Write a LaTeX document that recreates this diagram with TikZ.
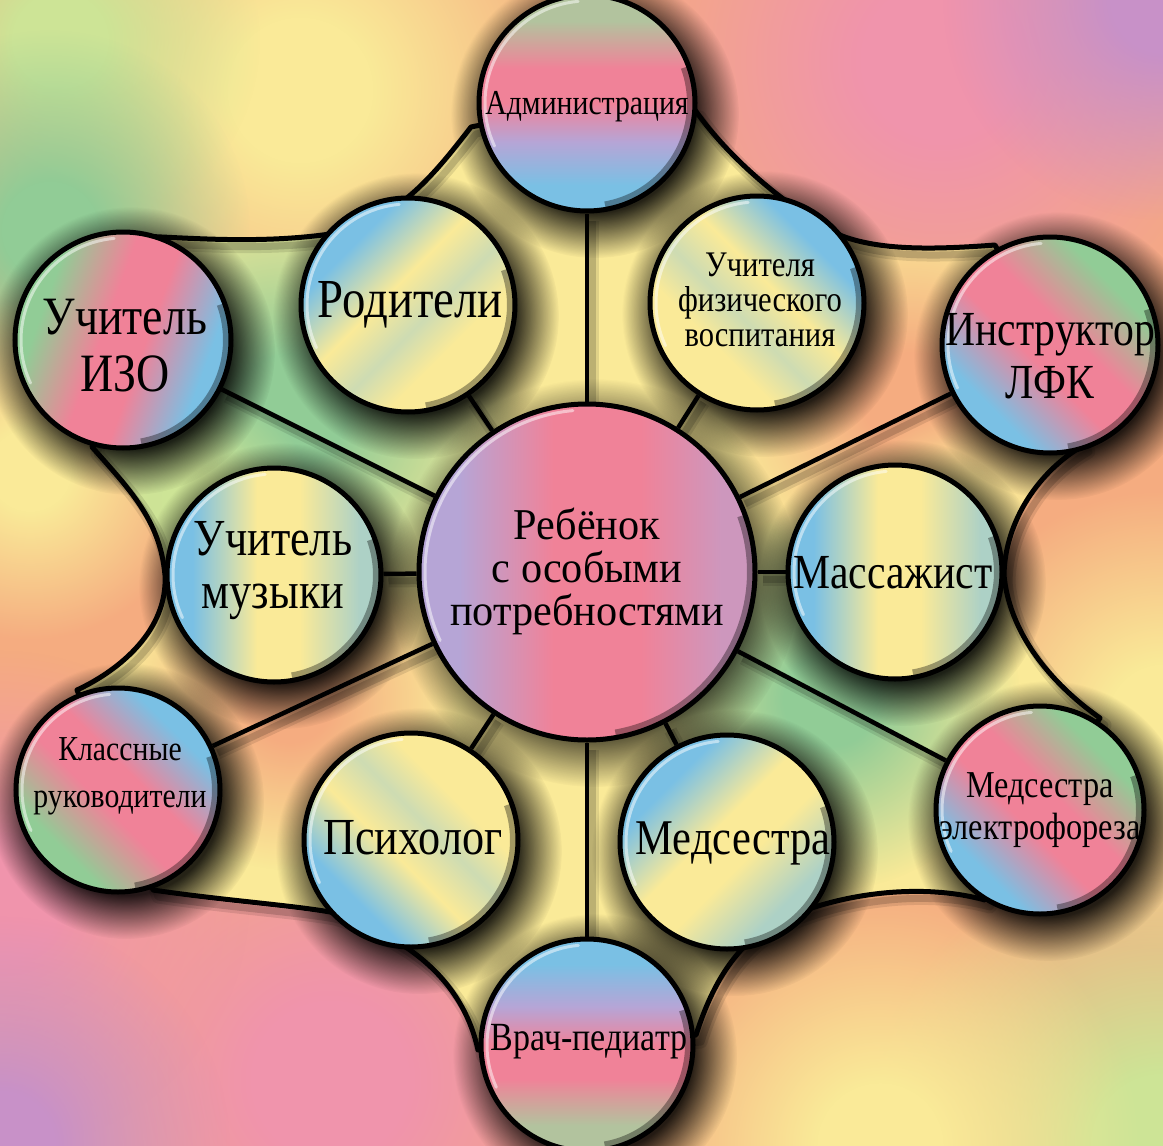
\documentclass[tikz,border=0pt]{standalone}
\usepackage{fontspec}
\setmainfont{Liberation Serif}[FakeStretch=0.85]
\newfontfamily\cenfont{Liberation Serif}[FakeStretch=0.96]
\usetikzlibrary{fadings,calc}
\pgfdeclarelayer{bg}
\pgfdeclarelayer{shad}
\pgfdeclarelayer{lines}
\pgfsetlayers{bg,shad,lines,main}

\definecolor{pk}{RGB}{240,130,152}
\definecolor{bl}{RGB}{122,192,228}
\definecolor{ye}{RGB}{250,234,152}
\definecolor{gr}{RGB}{145,204,150}
\definecolor{lv}{RGB}{182,165,214}
\definecolor{tn}{RGB}{178,195,158}
\definecolor{orng}{RGB}{245,172,128}
\definecolor{bgpk}{RGB}{240,148,172}
\definecolor{bglv}{RGB}{200,145,200}
\definecolor{bgyg}{RGB}{205,228,150}

\pgfdeclarehorizontalshading{shAdm}{100bp}{color(0bp)=(bl); color(31bp)=(bl); color(41bp)=(lv); color(50bp)=(pk); color(58bp)=(pk); color(69bp)=(tn); color(100bp)=(tn)}
\pgfdeclarehorizontalshading{shBY}{100bp}{color(0bp)=(bl); color(31bp)=(bl); color(45bp)=(ye); color(55bp)=(bl!35!ye); color(64bp)=(ye); color(100bp)=(ye)}
\pgfdeclarehorizontalshading{shGPB}{100bp}{color(0bp)=(gr); color(30bp)=(gr); color(45bp)=(pk); color(55bp)=(pk); color(70bp)=(bl); color(100bp)=(bl)}
\pgfdeclarehorizontalshading{shBYB}{100bp}{color(0bp)=(bl); color(31bp)=(bl); color(46bp)=(ye); color(56bp)=(ye); color(70bp)=(bl!60!ye); color(100bp)=(bl!60!ye)}
\pgfdeclarehorizontalshading{shCen}{100bp}{color(0bp)=(lv); color(31bp)=(lv); color(45bp)=(pk); color(58bp)=(pk); color(70bp)=(lv!60!pk); color(100bp)=(lv!60!pk)}

\pgfdeclareradialshading{blobshade}{\pgfpointorigin}{color(0bp)=(pgftransparent!0); color(6bp)=(pgftransparent!0); color(25bp)=(pgftransparent!100); color(50bp)=(pgftransparent!100)}
\pgfdeclarefading{softblob}{\pgfuseshading{blobshade}}
\pgfdeclareradialshading{shadshade}{\pgfpointorigin}{color(0bp)=(pgftransparent!0); color(17bp)=(pgftransparent!0); color(25bp)=(pgftransparent!100); color(50bp)=(pgftransparent!100)}
\pgfdeclarefading{softshadow}{\pgfuseshading{shadshade}}

\newcommand\bgblob[4]{\fill[#1,path fading=softblob] (#2,#3) circle (#4);}

\tikzset{
  bub/.style={circle, draw=black, line width=5pt, shade, inner sep=0pt},
  lbl/.style={align=center, text=black, inner sep=0pt},
  spoke/.style={draw=black, line width=4.5pt},
  rim/.style={draw=black, line width=5pt, line join=round},
  lineshadowA/.style={draw=black, opacity=.10, line width=13pt, line join=round},
  lineshadowB/.style={draw=black, opacity=.16, line width=7pt, line join=round}
}

\begin{document}
\begin{tikzpicture}[x=1pt,y=-1pt]
\useasboundingbox (0,0) rectangle (1163,1146);

% circles
\node[bub, shading=shAdm, shading angle=90, minimum size=216pt] (adm) at (587,103) {};
\node[bub, shading=shBY, shading angle=-45, minimum size=214pt] (rod) at (408,305) {};
\node[bub, shading=shBY, shading angle=-135, minimum size=214pt] (fiz) at (757,303) {};
\node[bub, shading=shGPB, shading angle=-20, minimum size=216pt] (izo) at (123,340) {};
\node[bub, shading=shGPB, shading angle=-135, minimum size=216pt] (lfk) at (1050,345) {};
\node[bub, shading=shBYB, minimum size=214pt] (muz) at (274,575) {};
\node[bub, shading=shBYB, minimum size=214pt] (mas) at (895,572) {};
\node[bub, shading=shCen, minimum size=336pt] (cen) at (587,572) {};
\node[bub, shading=shGPB, shading angle=45, minimum size=204pt] (kl) at (118,790) {};
\node[bub, shading=shGPB, shading angle=-135, minimum size=208pt] (el) at (1040,810) {};
\node[bub, shading=shBY, shading angle=45, minimum size=214pt] (psy) at (411,840) {};
\node[bub, shading=shBYB, shading angle=-45, minimum size=214pt] (med) at (727,842) {};
\node[bub, shading=shAdm, shading angle=-90, minimum size=212pt] (vr) at (587,1045) {};

% gloss and inner rim
\foreach \n/\r in {adm/110,rod/109,fiz/109,izo/110,lfk/110,muz/109,mas/109,cen/170,kl/104,el/106,psy/109,med/109,vr/108}{
  \draw[black, opacity=.35, line width=6pt] ([shift={(-20:{\r-7})}]\n.center) arc[start angle=-20, end angle=80, radius={\r-7}];
  \draw[white, opacity=.5, line width=3pt, line cap=round] ([shift={(-205:{\r-8})}]\n.center) arc[start angle=-205, end angle=-95, radius={\r-8}];
}

% texts
\node[lbl, font=\fontsize{35}{38}\selectfont] (adm-t) at (587,107) {Администрация};
\node[lbl, font=\fontsize{55}{55}\selectfont] (rod-t) at (410,305) {Родители};
\node[lbl, font=\fontsize{36}{35}\selectfont] (fiz-t) at (760,300) {Учителя\\физического\\воспитания};
\node[lbl, font=\fontsize{54}{57}\selectfont] (izo-t) at (125,346) {Учитель\\ИЗО};
\node[lbl, font=\fontsize{49}{53}\selectfont] (lfk-t) at (1050,356) {Инструктор\\ЛФК};
\node[lbl, font=\fontsize{52}{53}\selectfont] (muz-t) at (273,571) {Учитель\\музыки};
\node[lbl, font=\fontsize{49}{50}\selectfont] (mas-t) at (893,573) {Массажист};
\node[lbl, font=\cenfont\fontsize{44}{43}\selectfont] (cen-t) at (587,571) {Ребёнок\\с особыми\\потребностями};
\node[lbl, font=\fontsize{35}{47}\selectfont] (kl-t) at (120,776) {Классные\\руководители};
\node[lbl, font=\fontsize{38}{42}\selectfont] (el-t) at (1040,810) {Медсестра\\электрофореза};
\node[lbl, font=\fontsize{52}{52}\selectfont] (psy-t) at (413,838) {Психолог};
\node[lbl, font=\fontsize{50}{50}\selectfont] (med-t) at (733,843) {Медсестра};
\node[lbl, font=\fontsize{40}{40}\selectfont] (vr-t) at (589,1042) {Врач-педиатр};

\newcommand\starpath{(adm.center) -- (471,127) .. controls (430,180) and (395,222) .. (330,234) .. controls (260,244) and (190,238) .. (140,236) -- (izo.center)
 -- (92,447) .. controls (130,490) and (160,520) .. (165,575) .. controls (168,630) and (120,670) .. (77,690) -- (kl.center)
 -- (153,890) .. controls (220,900) and (290,905) .. (330,912) .. controls (420,940) and (465,990) .. (478,1050) -- (vr.center)
 -- (696,1035) .. controls (715,975) and (745,930) .. (800,912) .. controls (860,890) and (930,885) .. (985,900) -- (el.center)
 -- (1100,718) .. controls (1060,690) and (1010,640) .. (1004,575) .. controls (1005,520) and (1040,470) .. (1084,445) -- (lfk.center)
 -- (995,245) .. controls (930,250) and (880,250) .. (842,236) .. controls (790,210) and (730,160) .. (695,110) -- cycle}

% background
\begin{pgfonlayer}{bg}
\fill[orng] (0,0) rectangle (1163,1146);
\bgblob{ye}{300}{90}{300}
\bgblob{bgyg}{60}{40}{200}
\bgblob{gr}{50}{230}{200}
\bgblob{ye}{30}{470}{170}
\bgblob{bgpk}{940}{60}{330}
\bgblob{bglv}{1163}{0}{220}
\bgblob{ye}{1163}{720}{230}
\bgblob{bgyg}{1163}{1146}{300}
\bgblob{ye}{880}{1146}{260}
\bgblob{bgpk}{330}{1080}{330}
\bgblob{bgpk}{0}{900}{250}
\bgblob{bglv}{0}{1146}{230}
\begin{scope}
\clip \starpath;
\fill[ye] (0,0) rectangle (1163,1146);
\bgblob{gr}{290}{410}{230}
\bgblob{bgyg}{190}{500}{120}
\bgblob{orng}{290}{700}{170}
\bgblob{orng}{910}{400}{190}
\bgblob{ye}{960}{520}{110}
\bgblob{gr}{830}{700}{190}
\bgblob{ye}{600}{900}{200}
\bgblob{ye}{560}{220}{170}
\end{scope}
\end{pgfonlayer}

% shadows
\begin{pgfonlayer}{shad}
\begin{scope}[transform canvas={shift={(5pt,-7pt)}}]
\draw[lineshadowA] \starpath;
\draw[lineshadowB] \starpath;
\foreach \n in {adm,rod,fiz,izo,lfk,muz,mas,kl,el,psy,med,vr}{\draw[lineshadowA] (cen) -- (\n); \draw[lineshadowB] (cen) -- (\n);}
\end{scope}
\foreach \n/\r in {adm/110,rod/109,fiz/109,izo/110,lfk/110,muz/109,mas/109,cen/170,kl/104,el/106,psy/109,med/109,vr/108}{
  \fill[black, opacity=.85, path fading=softshadow] ($(\n)+(8,11)$) circle ({\r+34});
}
\end{pgfonlayer}

% connectors
\begin{pgfonlayer}{lines}
\draw[rim] \starpath;
\foreach \n in {adm,rod,fiz,izo,lfk,muz,mas,kl,el,psy,med,vr}{\draw[spoke] (cen) -- (\n);}
\end{pgfonlayer}
\end{tikzpicture}
\end{document}
